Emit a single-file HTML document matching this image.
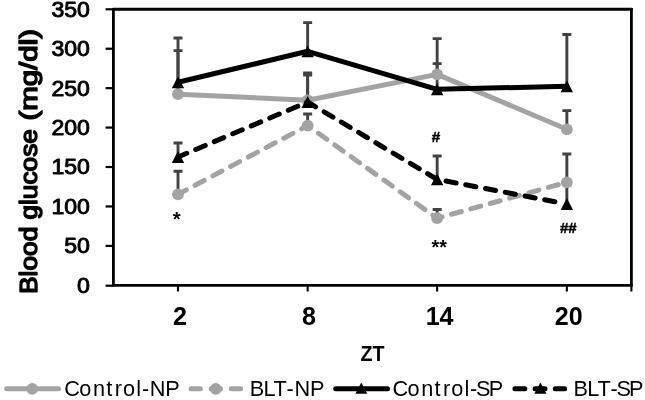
<!DOCTYPE html>
<html lang="en">
<head>
<meta charset="utf-8">
<title>Blood glucose (mg/dl) vs ZT</title>
<style>
html,body{margin:0;padding:0;background:#fff;}
body{width:645px;height:400px;overflow:hidden;}
svg{display:block;}
text{font-family:"Liberation Sans",Arial,sans-serif;fill:#000;}
.b{font-weight:bold;}
</style>
</head>
<body>
<svg width="645" height="400" viewBox="0 0 645 400">
<rect x="0" y="0" width="645" height="400" fill="#fff"/>

<g stroke="#000" fill="none">
<path d="M113.4,285.3V9.2H631.4V285.3" stroke-width="2.8" stroke-linejoin="round"/>
<path d="M112,9.2H632.8" stroke-width="2.5"/>
<path d="M112,285.35H632.8" stroke-width="2.8"/>
<line x1="105.6" y1="285.70" x2="113.4" y2="285.70" stroke-width="2.2"/>
<line x1="105.6" y1="245.87" x2="113.4" y2="245.87" stroke-width="2.2"/>
<line x1="105.6" y1="206.44" x2="113.4" y2="206.44" stroke-width="2.2"/>
<line x1="105.6" y1="167.01" x2="113.4" y2="167.01" stroke-width="2.2"/>
<line x1="105.6" y1="127.58" x2="113.4" y2="127.58" stroke-width="2.2"/>
<line x1="105.6" y1="88.15" x2="113.4" y2="88.15" stroke-width="2.2"/>
<line x1="105.6" y1="48.72" x2="113.4" y2="48.72" stroke-width="2.2"/>
<line x1="105.6" y1="9.29" x2="113.4" y2="9.29" stroke-width="2.2"/>
<line x1="178.00" y1="285.3" x2="178.00" y2="291.5" stroke-width="2.1"/>
<line x1="307.65" y1="285.3" x2="307.65" y2="291.5" stroke-width="2.1"/>
<line x1="437.15" y1="285.3" x2="437.15" y2="291.5" stroke-width="2.1"/>
<line x1="566.85" y1="285.3" x2="566.85" y2="291.5" stroke-width="2.1"/>
<line x1="631.40" y1="285.3" x2="631.40" y2="291.5" stroke-width="2.1"/>
</g>
<g font-size="21.5" stroke="#000" stroke-width="0.9" stroke-linejoin="round" text-anchor="end">
<text x="89.9" y="292.75" textLength="12.9" lengthAdjust="spacingAndGlyphs">0</text>
<text x="89.9" y="253.32" textLength="25.7" lengthAdjust="spacingAndGlyphs">50</text>
<text x="89.9" y="213.89" textLength="38.5" lengthAdjust="spacingAndGlyphs">100</text>
<text x="89.9" y="174.46" textLength="38.5" lengthAdjust="spacingAndGlyphs">150</text>
<text x="89.9" y="135.03" textLength="38.5" lengthAdjust="spacingAndGlyphs">200</text>
<text x="89.9" y="95.60" textLength="38.5" lengthAdjust="spacingAndGlyphs">250</text>
<text x="89.9" y="56.17" textLength="38.5" lengthAdjust="spacingAndGlyphs">300</text>
<text x="89.9" y="16.74" textLength="38.5" lengthAdjust="spacingAndGlyphs">350</text>
</g>
<g font-size="24.8" stroke="#000" stroke-width="1.45" stroke-linejoin="round" transform="translate(37.2,0) rotate(-90)">
<text x="-294.0" y="0" textLength="67.4" lengthAdjust="spacingAndGlyphs">Blood</text>
<text x="-219.6" y="0" textLength="90.6" lengthAdjust="spacingAndGlyphs">glucose</text>
<text x="-120.6" y="0" textLength="91.6" lengthAdjust="spacingAndGlyphs">(mg/dl)</text>
</g>
<g class="b" font-size="25.1" text-anchor="middle">
<text x="180.1" y="324.6">2</text>
<text x="309.1" y="324.6">8</text>
<text x="439.6" y="324.6">14</text>
<text x="568.7" y="324.6">20</text>
</g>
<text class="b" font-size="22.9" x="360.6" y="361" textLength="24.0" lengthAdjust="spacingAndGlyphs">ZT</text>
<g stroke="#424242" stroke-width="2.9" fill="none">
<path d="M178.00,94.20V50.60M173.50,50.60H182.50"/>
<path d="M307.65,100.30V75.00M303.15,75.00H312.15"/>
<path d="M437.15,74.40V38.60M432.65,38.60H441.65"/>
<path d="M566.85,129.30V110.60M562.35,110.60H571.35"/>
<path d="M178.00,194.30V171.25M173.50,171.25H182.50"/>
<path d="M307.65,125.60V114.00M303.15,114.00H312.15"/>
<path d="M437.15,218.20V209.50M432.65,209.50H441.65"/>
<path d="M566.85,182.30V154.00M562.35,154.00H571.35"/>
<path d="M178.00,82.30V38.00M173.50,38.00H182.50"/>
<path d="M307.65,51.30V22.60M303.15,22.60H312.15"/>
<path d="M437.15,89.30V63.60M432.65,63.60H441.65"/>
<path d="M566.85,86.30V34.50M562.35,34.50H571.35"/>
<path d="M178.00,157.00V143.00M173.50,143.00H182.50"/>
<path d="M307.65,102.00V73.00M303.15,73.00H312.15"/>
<path d="M437.15,179.40V156.00M432.65,156.00H441.65"/>
<path d="M566.85,204.00V182.50M562.35,182.50H571.35"/>
</g>
<polyline points="178.00,94.20 307.65,100.30 437.15,74.40 566.85,129.30" fill="none" stroke="#a3a3a3" stroke-width="5.0" stroke-linecap="round" stroke-linejoin="round"/>
<circle cx="178.00" cy="94.20" r="5.9" fill="#a3a3a3"/>
<circle cx="307.65" cy="100.30" r="5.9" fill="#a3a3a3"/>
<circle cx="437.15" cy="74.40" r="5.9" fill="#a3a3a3"/>
<circle cx="566.85" cy="129.30" r="5.9" fill="#a3a3a3"/>
<polyline points="178.00,194.30 307.65,125.60 437.15,218.20 566.85,182.30" fill="none" stroke="#a3a3a3" stroke-width="5.0" stroke-linecap="round" stroke-linejoin="round" stroke-dasharray="10.3 9.8" stroke-dashoffset="0.8"/>
<circle cx="178.00" cy="194.30" r="5.9" fill="#a3a3a3"/>
<circle cx="307.65" cy="125.60" r="5.9" fill="#a3a3a3"/>
<circle cx="437.15" cy="218.20" r="5.9" fill="#a3a3a3"/>
<circle cx="566.85" cy="182.30" r="5.9" fill="#a3a3a3"/>
<polyline points="178.00,82.30 307.65,51.30 437.15,89.30 566.85,86.30" fill="none" stroke="#000" stroke-width="5.0" stroke-linecap="round" stroke-linejoin="round"/>
<polygon points="178.00,76.40 184.20,88.20 171.80,88.20" fill="#000"/>
<polygon points="307.65,45.40 313.85,57.20 301.45,57.20" fill="#000"/>
<polygon points="437.15,83.40 443.35,95.20 430.95,95.20" fill="#000"/>
<polygon points="566.85,80.40 573.05,92.20 560.65,92.20" fill="#000"/>
<polyline points="178.00,157.00 307.65,102.00 437.15,179.40 563.71,203.40" fill="none" stroke="#000" stroke-width="5.0" stroke-linecap="round" stroke-linejoin="round" stroke-dasharray="10.3 9.8" stroke-dashoffset="0.8"/>
<polygon points="178.00,151.10 184.20,162.90 171.80,162.90" fill="#000"/>
<polygon points="307.65,96.10 313.85,107.90 301.45,107.90" fill="#000"/>
<polygon points="437.15,173.50 443.35,185.30 430.95,185.30" fill="#000"/>
<polygon points="566.85,198.10 573.05,209.90 560.65,209.90" fill="#000"/>
<g class="b">
<text font-size="20.4" x="172.8" y="225.6">*</text>
<text font-size="19.6" x="431.5" y="254.4">**</text>
<text font-size="15.2" x="431.7" y="141.9" stroke="#000" stroke-width="0.45">#</text>
<text font-size="15" x="559.9" y="232.5" stroke="#000" stroke-width="0.45">##</text>
</g>
<g fill="none" stroke-width="5.0" stroke-linecap="round">
<line x1="6.7" y1="388.8" x2="58.5" y2="388.8" stroke="#a3a3a3"/>
<line x1="191.1" y1="388.8" x2="240.6" y2="388.8" stroke="#a3a3a3" stroke-dasharray="9.3 10.8"/>
<line x1="335.7" y1="388.8" x2="387.5" y2="388.8" stroke="#000"/>
<line x1="514.9" y1="388.8" x2="564.6" y2="388.8" stroke="#000" stroke-dasharray="9.9 10.3"/>
</g>
<circle cx="32.20" cy="388.80" r="5.9" fill="#a3a3a3"/>
<circle cx="215.80" cy="388.80" r="5.9" fill="#a3a3a3"/>
<polygon points="361.30,382.40 367.20,393.80 355.40,393.80" fill="#000"/>
<polygon points="540.40,382.40 546.50,393.80 534.30,393.80" fill="#000"/>
<g font-size="21.7">
<text x="64.3 79.3 93.1 106.2 114.7 123.1 136.3 141.9 149.7 165.2" y="395.9">Control-NP</text>
<text x="249.7 263.4 273.6 286.6 294.4 309.9" y="395.9">BLT-NP</text>
<text x="392.5 407.5 421.3 434.4 442.9 451.3 464.5 470.1 476.1 488.7" y="395.9">Control-SP</text>
<text x="573.5 587.2 597.4 610.5 616.5 629.1" y="395.9">BLT-SP</text>
</g>
</svg>
</body>
</html>
